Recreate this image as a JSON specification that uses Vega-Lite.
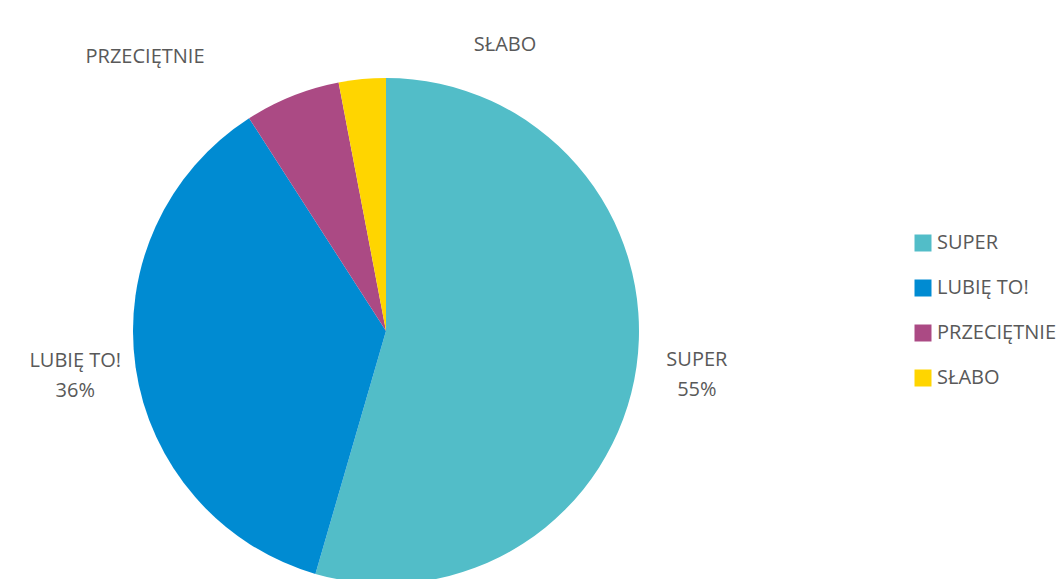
{
  "$schema": "https://vega.github.io/schema/vega-lite/v6.json",
  "width": 772,
  "height": 662,
  "autosize": "none",
  "padding": {"left": 0, "top": 0, "right": 288, "bottom": 0},
  "background": "white",
  "config": {"view": {"stroke": null}},
  "data": {
    "values": [
      {"kategoria": "SUPER", "procent": 54.5, "etykieta": "SUPER\n55%", "i": 1},
      {"kategoria": "LUBIĘ TO!", "procent": 36.4, "etykieta": "LUBIĘ TO!\n36%", "i": 2},
      {"kategoria": "PRZECIĘTNIE", "procent": 6.1, "etykieta": "PRZECIĘTNIE", "i": 3},
      {"kategoria": "SŁABO", "procent": 3.0, "etykieta": "SŁABO", "i": 4}
    ]
  },
  "layer": [
    {
      "mark": {"type": "arc", "outerRadius": 253},
      "encoding": {
        "theta": {"field": "procent", "type": "quantitative", "stack": true},
        "order": {"field": "i", "type": "quantitative"},
        "color": {
          "field": "kategoria",
          "type": "nominal",
          "scale": {
            "domain": ["SUPER", "LUBIĘ TO!", "PRZECIĘTNIE", "SŁABO"],
            "range": ["#52BDC8", "#008BD2", "#AB4A84", "#FFD500"]
          },
          "legend": {
            "orient": "none",
            "legendX": 913,
            "legendY": 233,
            "title": null,
            "symbolType": "square",
            "symbolSize": 289,
            "symbolStrokeWidth": 0,
            "labelFont": "Open Sans",
            "labelFontSize": 20,
            "labelColor": "#595959",
            "labelOffset": 4,
            "rowPadding": 25,
            "labelLimit": 300
          }
        }
      }
    },
    {
      "mark": {"type": "text", "radius": 314, "dy": -15, "font": "Open Sans", "fontSize": 20, "color": "#595959", "lineBreak": "\n", "lineHeight": 30, "align": "center", "baseline": "middle"},
      "encoding": {
        "theta": {"field": "procent", "type": "quantitative", "stack": true},
        "order": {"field": "i", "type": "quantitative"},
        "text": {"condition": {"test": "datum.procent > 20", "field": "etykieta"}, "value": ""}
      }
    },
    {
      "transform": [{"filter": "datum.kategoria == 'PRZECIĘTNIE'"}],
      "mark": {"type": "text", "theta": -0.721, "radius": 365, "font": "Open Sans", "fontSize": 20, "color": "#595959", "align": "center", "baseline": "middle"},
      "encoding": {"text": {"field": "etykieta"}}
    },
    {
      "transform": [{"filter": "datum.kategoria == 'SŁABO'"}],
      "mark": {"type": "text", "theta": 0.394, "radius": 310, "font": "Open Sans", "fontSize": 20, "color": "#595959", "align": "center", "baseline": "middle"},
      "encoding": {"text": {"field": "etykieta"}}
    }
  ]
}
